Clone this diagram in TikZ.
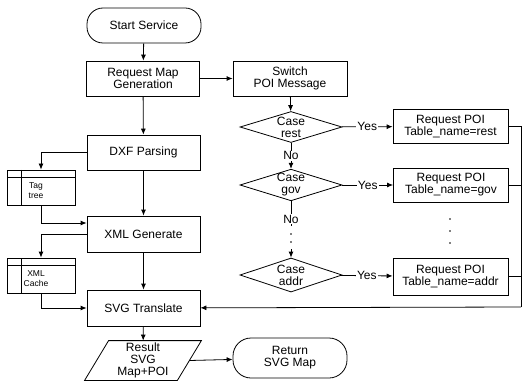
\documentclass[tikz,border=0pt]{standalone}
\usepackage{fontspec}
\setmainfont{Liberation Sans}
\usetikzlibrary{shapes,arrows.meta,calc,positioning}

\begin{document}
\begin{tikzpicture}[x=1pt,y=-1pt,line width=0.8pt,>={Latex[length=6pt,width=5pt]},
    font=\fontsize{12}{12}\selectfont,
    proc/.style={draw,rectangle,minimum width=113pt,minimum height=35pt,align=center,inner sep=1pt},
    term/.style={draw,rectangle,rounded corners=16pt,minimum width=114pt,minimum height=35pt,align=center,inner sep=1pt},
    decide/.style={draw,diamond,aspect=3.2,minimum width=102pt,minimum height=31pt,inner sep=0pt,align=center},
    poi/.style={draw,rectangle,minimum width=115pt,minimum height=34pt,align=center,inner sep=1pt},
    store/.style={draw,rectangle,minimum width=68pt,minimum height=35pt,
        path picture={
            \draw ([xshift=14pt]path picture bounding box.north west) -- ([xshift=14pt]path picture bounding box.south west);
            \draw ([yshift=-7pt]path picture bounding box.north west) -- ([yshift=-7pt]path picture bounding box.north east);
        }},
    storetext/.style={align=center,inner sep=0pt,font=\fontsize{8.5}{10}\selectfont},
    io/.style={rectangle,minimum width=68pt,minimum height=39pt,align=center,inner sep=0pt},
    lbl/.style={fill=white,inner sep=1pt}]

   \useasboundingbox (0,0) rectangle (524,382);

   % Main column
   \node[term] (start) at (144,25.5) {Start Service};
   \node[proc] (reqmap) at (143,78.5) {Request Map\\Generation};
   \node[proc] (dxf) at (143.5,152.5) {DXF Parsing};
   \node[proc,minimum height=36pt] (xml) at (143.5,234) {XML Generate};
   \node[proc,minimum height=36pt] (svg) at (143.5,308) {SVG Translate};
   \node[io] (res) at (143,360.5) {Result\\SVG\\Map+POI};
   \draw ([xshift=-24pt]res.south west) -- (res.north west) -- ([xshift=24pt]res.north east) -- (res.south east) -- cycle;
   \node[term,minimum height=40pt,rounded corners=18pt] (ret) at (290,358) {Return\\SVG Map};

   % Stores
   \node[store] (tag) at (41,187.5) {};
   \node[storetext] (tagtxt) at ([xshift=-5pt,yshift=-3pt]tag.center) {Tag\\tree};
   \node[store] (cache) at (41,275.5) {};
   \node[storetext] (cachetxt) at ([xshift=-5pt,yshift=-3pt]cache.center) {XML\\Cache};

   % POI switch
   \node[proc,minimum width=114pt] (switch) at (290,78.5) {Switch\\POI Message};
   \node[decide] (rest) at (291,127) {Case\\rest};
   \node[decide] (gov) at (291,185) {Case\\gov};
   \node[decide,minimum height=34pt] (addr) at (291,275) {Case\\addr};
   \node[poi] (poirest) at (450.5,126.5) {Request POI\\Table\_name=rest};
   \node[poi] (poigov) at (451,185) {Request POI\\Table\_name=gov};
   \node[poi,minimum height=37pt] (poiaddr) at (450.5,276.5) {Request POI\\Table\_name=addr};

   % Flow
   \draw[->] (start) -- (reqmap);
   \draw[->] (reqmap) -- (switch);
   \draw[->] (reqmap) -- (dxf);
   \draw[->] (dxf) -- (xml);
   \draw[->] (xml) -- (svg);
   \draw[->] (svg) -- (res);
   \draw[->] ([xshift=12pt]res.east) -- (ret);

   % Store links
   \draw[->] (dxf.west) -| (tag.north);
   \draw[->] (tag.south) |- ([yshift=11pt]xml.west);
   \draw[->] (xml.west) -| (cache.north);
   \draw[->] (cache.south) |- (svg.west);

   % Cases
   \draw[->] (switch) -- (rest);
   \draw[->] (rest) -- node[lbl]{No} (gov);
   \coordinate (skipa) at (291,226);
   \coordinate (skipb) at (291,249);
   \draw (gov) -- node[lbl,pos=0.72]{No} (skipa);
   \fill (291,234) circle (0.9pt);
   \fill (291,242) circle (0.9pt);
   \draw[->] (skipb) -- (addr);
   \draw[->] (rest) -- node[lbl]{Yes} (poirest);
   \draw[->] (gov) -- node[lbl]{Yes} (poigov);
   \draw[->] (addr) -- node[lbl]{Yes} (poiaddr);

   % Dots between requests
   \fill (450,219) circle (0.9pt);
   \fill (450,231) circle (0.9pt);
   \fill (450,243) circle (0.9pt);

   % Back to translate
   \coordinate (bus) at (521,307);
   \draw (poirest) -| (bus);
   \draw (poigov) -- (poigov -| bus);
   \draw (poiaddr) -- (poiaddr -| bus);
   \draw[->] (bus) -- (svg);

\end{tikzpicture}
\end{document}
